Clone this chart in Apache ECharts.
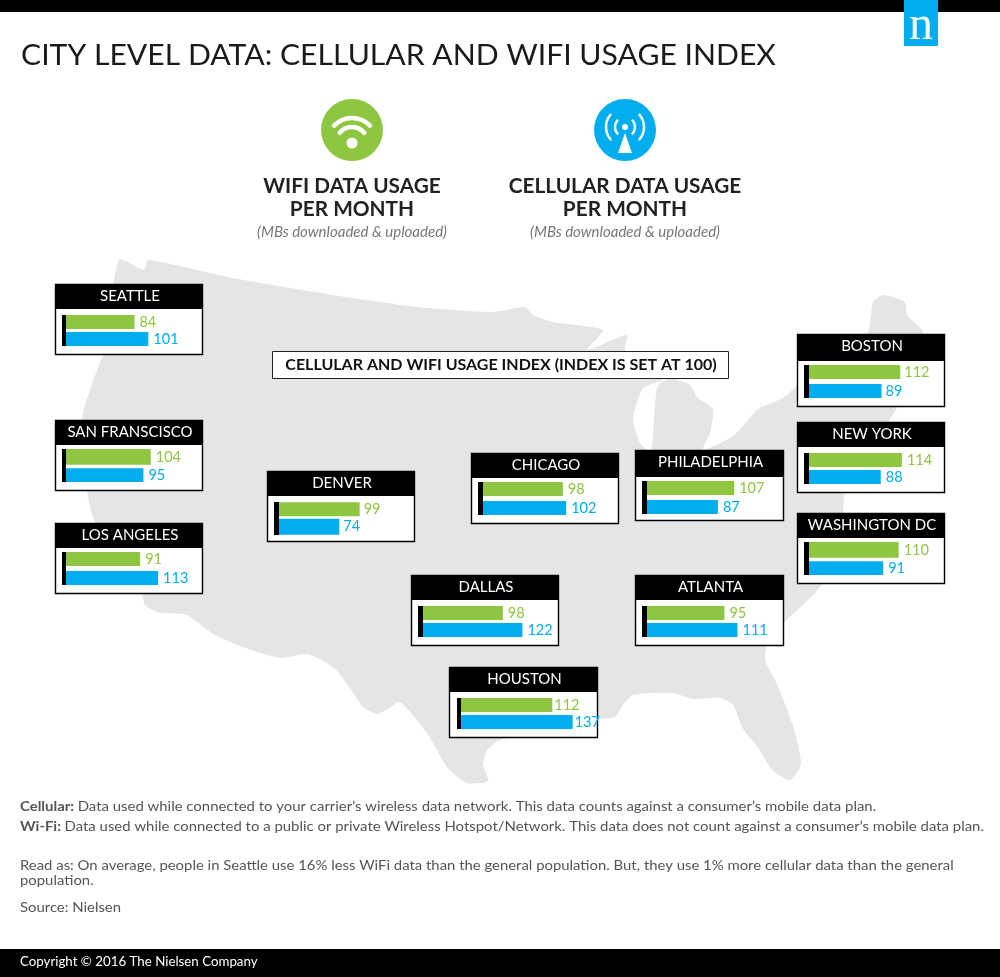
<!DOCTYPE html>
<html>
<head>
    <meta charset="utf-8">
    <title>City level data: cellular and WiFi usage index</title>
    <script src="https://cdn.jsdelivr.net/npm/echarts@6/dist/echarts.min.js"></script>
    <style>
        html, body { margin: 0; padding: 0; background: #fff; }
        #chart-container { width: 1000px; height: 977px; }
    </style>
</head>
<body>
<div id="chart-container"></div>

<script>
    // values
    var cities = ['SEATTLE', 'BOSTON', 'NEW YORK', 'SAN FRANSCISCO', 'LOS ANGELES', 'DENVER',
        'CHICAGO', 'PHILADELPHIA', 'WASHINGTON DC', 'DALLAS', 'ATLANTA', 'HOUSTON'];
    var wifiValues = [84, 112, 114, 104, 91, 99, 98, 107, 110, 98, 95, 112];
    var cellularValues = [101, 89, 88, 95, 113, 74, 102, 87, 91, 122, 111, 137];

    // card layout, same order as cities: box x, y, width, height, header height, axis x, bars top,
    // stub width, wifi bar height, gap, cellular bar height, label distance
    var cardLayout = [
        [55, 284, 148, 71, 25, 66, 315, 4, 14, 3, 14, 5],
        [797, 334, 148, 73, 27, 809, 365, 5, 14, 5, 14, 4],
        [797, 422, 148, 71, 25, 809, 453, 5, 14, 3, 14, 5],
        [55, 420, 148, 71, 25, 66, 449, 4, 16, 3, 14, 5],
        [55, 523, 148, 71, 25, 66, 552, 4, 14, 5, 14, 5],
        [267, 471, 148, 71, 25, 279, 502, 5, 14, 3, 16, 4],
        [471, 453, 148, 71, 25, 483, 482, 5, 14, 5, 14, 5],
        [635, 450, 149, 71, 27, 647, 481, 5, 14, 5, 14, 5],
        [797, 513, 148, 71, 25, 809, 542, 5, 16, 3, 14, 5],
        [411, 575, 148, 71, 25, 423, 606, 5, 14, 3, 14, 5],
        [635, 575, 149, 71, 25, 647, 606, 5, 14, 3, 14, 5],
        [449, 667, 149, 71, 25, 461, 698, 4, 14, 3, 14, 2]
    ];

    var GREEN = '#8dc63f';
    var BLUE = '#00aeef';
    var FONT = 'Lato, sans-serif';
    var AXIS_MAX = 160;
    var PX_PER_UNIT = 0.815;

    // US silhouette behind the cards
    var mapOutline = [
        [119, 260], [144, 270], [148, 260], [233, 278], [333, 295], [417, 307], [493, 312],
        [525, 307], [533, 315], [553, 322], [603, 330], [587, 350], [627, 335], [625, 350],
        [663, 379], [643, 388], [633, 419], [640, 443], [651, 452], [655, 405], [658, 386],
        [670, 378], [690, 385], [698, 398], [713, 409], [710, 433], [703, 450], [733, 436],
        [757, 410], [762, 407], [783, 398], [797, 386], [867, 334], [873, 302], [883, 295],
        [905, 302], [907, 315], [923, 333], [897, 407], [845, 493], [843, 514], [822, 584],
        [785, 622], [767, 646], [765, 660], [777, 684], [793, 726], [801, 764], [790, 780],
        [773, 771], [757, 746], [743, 729], [733, 705], [720, 698], [693, 699], [673, 693],
        [633, 695], [623, 705], [615, 717], [600, 719], [500, 740], [487, 750], [483, 764],
        [488, 781], [467, 783], [447, 767], [427, 733], [400, 702], [388, 709], [377, 714],
        [363, 707], [350, 688], [333, 667], [307, 654], [280, 658], [240, 646], [213, 634],
        [187, 615], [157, 612], [145, 605], [142, 595], [95, 522], [87, 491], [82, 419],
        [97, 370], [103, 355]
    ];

    // scaleX stands in for the wider letterspacing of the original typeface
    function label(text, x, y, size, color, opts) {
        opts = opts || {};
        return {
            type: 'text', x: x, y: y, scaleX: opts.scaleX || 1, silent: true, z: opts.z || 5,
            style: {
                text: text,
                fill: color,
                font: (opts.style || 'normal') + ' ' + (opts.weight || 'normal') + ' ' + size + 'px ' + (opts.family || FONT),
                textAlign: opts.align || 'left',
                textVerticalAlign: 'middle'
            }
        };
    }

    function arc(cx, cy, r, from, to, width) {
        return {
            type: 'arc', silent: true, z: 5,
            shape: { cx: cx, cy: cy, r: r, startAngle: from, endAngle: to, clockwise: true },
            style: { stroke: '#fff', lineWidth: width, lineCap: 'round', fill: null }
        };
    }

    function richLine(head, rest, y) {
        return {
            type: 'text', x: 20, y: y, scaleX: 1.065, silent: true, z: 5,
            style: {
                text: '{b|' + head + '} {n|' + rest + '}',
                textVerticalAlign: 'middle',
                rich: {
                    b: { font: 'bold 14px ' + FONT, fill: '#555' },
                    n: { font: 'normal 14px ' + FONT, fill: '#555' }
                }
            }
        };
    }

    var graphics = [
        { type: 'polygon', silent: true, z: 0, shape: { points: mapOutline, smooth: 0.2 }, style: { fill: '#e5e5e5' } },
        { type: 'rect', silent: true, z: 3, shape: { x: 0, y: 0, width: 1000, height: 12 }, style: { fill: '#000' } },
        { type: 'rect', silent: true, z: 3, shape: { x: 0, y: 949, width: 1000, height: 28 }, style: { fill: '#000' } },
        { type: 'rect', silent: true, z: 4, shape: { x: 904, y: 0, width: 34, height: 46 }, style: { fill: BLUE } },
        label('n', 921, 26, 48, '#fff', { align: 'center', family: '"Liberation Serif", serif' }),
        label('CITY LEVEL DATA: CELLULAR AND WIFI USAGE INDEX', 21, 56, 29, '#1a1a1a', { scaleX: 1.04 }),

        // wifi icon
        { type: 'circle', silent: true, z: 4, shape: { cx: 352, cy: 130, r: 31 }, style: { fill: GREEN } },
        { type: 'circle', silent: true, z: 5, shape: { cx: 352, cy: 143, r: 5.5 }, style: { fill: '#fff' } },
        arc(352, 143, 25, -2.37, -0.77, 4.5),
        arc(352, 143, 16, -2.45, -0.69, 4.5),

        // cellular icon
        { type: 'circle', silent: true, z: 4, shape: { cx: 625, cy: 130, r: 31 }, style: { fill: BLUE } },
        { type: 'circle', silent: true, z: 5, shape: { cx: 625, cy: 127, r: 3 }, style: { fill: '#fff' } },
        { type: 'polygon', silent: true, z: 5, shape: { points: [[625, 133], [618, 153], [632, 153]] }, style: { fill: '#fff' } },
        arc(625, 127, 10, -0.7, 0.7, 2.5),
        arc(625, 127, 19, -0.7, 0.7, 2.5),
        arc(625, 127, 10, 2.44, 3.84, 2.5),
        arc(625, 127, 19, 2.44, 3.84, 2.5),

        label('WIFI DATA USAGE', 352, 187, 20, '#222', { align: 'center', weight: 'bold', scaleX: 1.04 }),
        label('PER MONTH', 352, 210, 20, '#222', { align: 'center', weight: 'bold', scaleX: 1.04 }),
        label('(MBs downloaded & uploaded)', 352, 232, 15, '#777', { align: 'center', style: 'italic' }),
        label('CELLULAR DATA USAGE', 625, 187, 20, '#222', { align: 'center', weight: 'bold', scaleX: 1.04 }),
        label('PER MONTH', 625, 210, 20, '#222', { align: 'center', weight: 'bold', scaleX: 1.04 }),
        label('(MBs downloaded & uploaded)', 625, 232, 15, '#777', { align: 'center', style: 'italic' }),

        { type: 'rect', silent: true, z: 1, shape: { x: 272.5, y: 351.5, width: 456, height: 27 }, style: { fill: '#fff', stroke: '#222', lineWidth: 1 } },
        label('CELLULAR AND WIFI USAGE INDEX (INDEX IS SET AT 100)', 501, 365, 15, '#111', { align: 'center', weight: 'bold', scaleX: 1.067 }),

        richLine('Cellular:', 'Data used while connected to your carrier\u2019s wireless data network. This data counts against a consumer\u2019s mobile data plan.', 806),
        richLine('Wi-Fi:', 'Data used while connected to a public or private Wireless Hotspot/Network. This data does not count against a consumer\u2019s mobile data plan.', 826),
        label('Read as: On average, people in Seattle use 16% less WiFi data than the general population. But, they use 1% more cellular data than the general', 20, 865, 14, '#555', { scaleX: 1.063 }),
        label('population.', 20, 880, 14, '#555', { scaleX: 1.063 }),
        label('Source: Nielsen', 20, 907, 14, '#555', { scaleX: 1.063 }),
        label('Copyright \u00a9 2016 The Nielsen Company', 20, 962, 13.5, '#fff', { scaleX: 0.985 })
    ];

    var grids = [], xAxes = [], yAxes = [], series = [];

    cities.forEach(function (city, i) {
        var c = cardLayout[i];
        var boxX = c[0], boxY = c[1], boxW = c[2], boxH = c[3], headH = c[4];
        var axisX = c[5], barsTop = c[6], stub = c[7];
        var wifiH = c[8], gap = c[9], cellH = c[10], labelGap = c[11];

        graphics.push(
            { type: 'rect', silent: true, z: 1, shape: { x: boxX + 0.5, y: boxY + 0.5, width: boxW - 1, height: boxH - 1 }, style: { fill: '#fff', stroke: '#000', lineWidth: 1.4 } },
            { type: 'rect', silent: true, z: 1, shape: { x: boxX, y: boxY, width: boxW, height: headH }, style: { fill: '#000' } },
            label(city, boxX + boxW / 2 + 1, boxY + 12, 15, '#fff', { align: 'center', z: 2 })
        );

        grids.push({ left: axisX, top: barsTop, width: AXIS_MAX * PX_PER_UNIT, height: wifiH + gap + cellH });
        xAxes.push({ type: 'value', gridIndex: i, min: 0, max: AXIS_MAX, show: false });
        yAxes.push({
            type: 'category', gridIndex: i, data: [city], inverse: true, offset: stub / 2, z: 3,
            axisLine: { show: true, onZero: false, lineStyle: { color: '#000', width: stub, cap: 'butt' } },
            axisTick: { show: false }, axisLabel: { show: false }, splitLine: { show: false }
        });

        [['WiFi', wifiValues[i], GREEN, wifiH], ['Cellular', cellularValues[i], BLUE, cellH]].forEach(function (s) {
            series.push({
                name: s[0], type: 'bar', xAxisIndex: i, yAxisIndex: i, data: [s[1]], z: 3,
                barWidth: s[3], barGap: (gap / s[3] * 100) + '%', silent: true,
                itemStyle: { color: s[2] },
                label: { show: true, position: 'right', distance: labelGap, color: s[2], fontFamily: FONT, fontSize: 14.5 }
            });
        });
    });

    var myChart = echarts.init(document.getElementById('chart-container'));
    myChart.setOption({
        animation: false,
        graphic: { elements: graphics },
        grid: grids,
        xAxis: xAxes,
        yAxis: yAxes,
        series: series
    });
</script>
</body>
</html>
